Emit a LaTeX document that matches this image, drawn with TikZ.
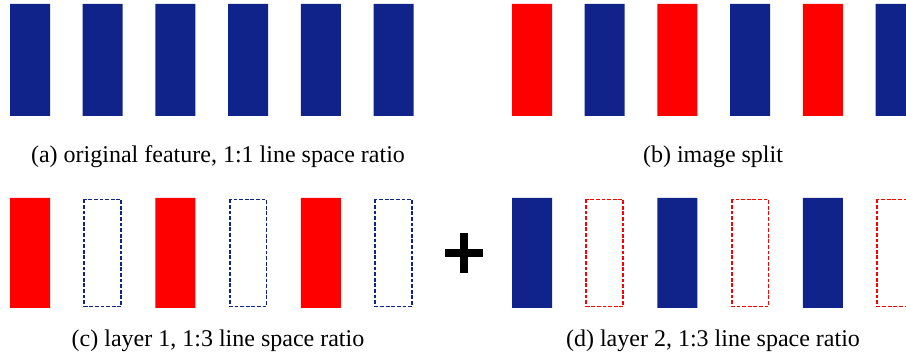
\documentclass[tikz,border=0pt]{standalone}
\usepackage{fontspec}
\setmainfont{Liberation Serif}
\usepackage{xcolor}
\definecolor{navy}{RGB}{16,35,138}
\definecolor{pure red}{RGB}{255,0,0}
\tikzset{
  every picture/.style={line join=miter, line cap=butt},
  bar/.style={fill=#1},
  ghost/.style={draw=#1, line width=1.9pt, dash pattern=on 3.8pt off 1.8pt},
  caption/.style={anchor=base, font=\fontsize{24}{28}\selectfont, inner sep=0pt},
}

\begin{document}
\begin{tikzpicture}[x=1pt,y=-1pt]
\useasboundingbox (0,0) rectangle (906,358);
% (a) original feature
\fill[bar=navy](10,4)rectangle(50,116)
(82.7,4)rectangle(122.7,116)
(155.4,4)rectangle(195.4,116)
(228,4)rectangle(268,116)
(300.8,4)rectangle(340.8,116)
(373.5,4)rectangle(413.5,116);
% (b) image split
\fill[bar=pure red](512,4)rectangle(552,116)
(657.4,4)rectangle(697.4,116)
(802.8,4)rectangle(842.8,116);
\fill[bar=navy](584.7,4)rectangle(624.7,116)
(730,4)rectangle(770,116)
(875.5,4)rectangle(915.5,116);
% (c) layer 1
\fill[bar=pure red](10,198)rectangle(50,308)
(155.4,198)rectangle(195.4,308)
(300.8,198)rectangle(340.8,308);
\draw[ghost=navy](84.3,199.5)rectangle(121.2,306.5)
(229.6,199.5)rectangle(266.5,306.5)
(375.1,199.5)rectangle(412,306.5);
% plus
\draw[line width=8pt](445,253)--(483,253)
(464,233)--(464,273);
% (d) layer 2
\fill[bar=navy](512,198)rectangle(552,308)
(657.4,198)rectangle(697.4,308)
(802.8,198)rectangle(842.8,308);
\draw[ghost=pure red](586.3,199.5)rectangle(623.2,306.5)
(731.6,199.5)rectangle(768.5,306.5)
(877.1,199.5)rectangle(914,306.5);
% captions
\node[caption](capA) at (218,163){(a) original feature, 1:1 line space ratio};
\node[caption](capB) at (713,163){(b) image split};
\node[caption](capC) at (218,347){(c) layer 1, 1:3 line space ratio};
\node[caption](capD) at (713,347){(d) layer 2, 1:3 line space ratio};
\end{tikzpicture}
\end{document}
